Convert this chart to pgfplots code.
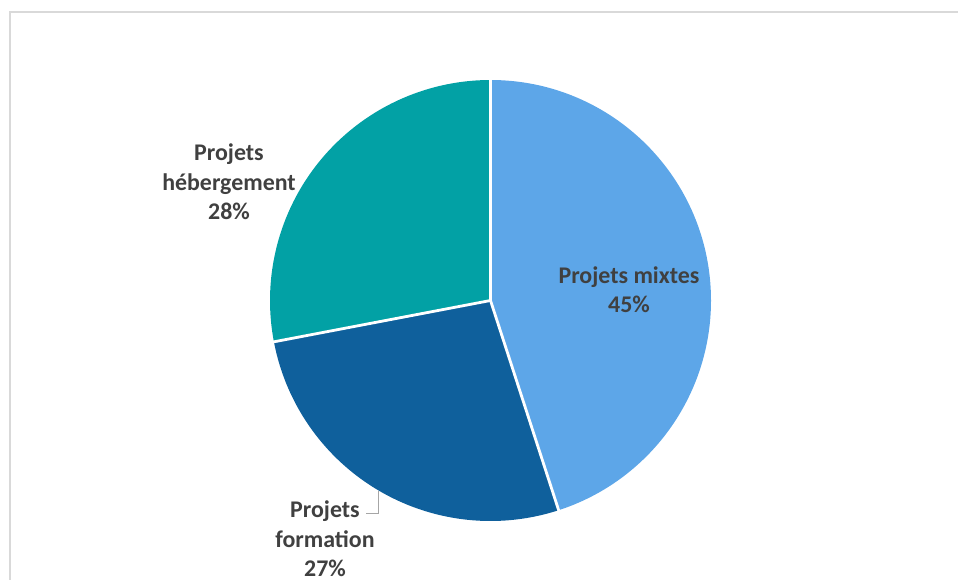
\documentclass[border=0pt]{standalone}
\usepackage{pgfplots}
\usepackage{pgfplotstable}
\pgfplotsset{compat=1.18}
\usepackage{fontspec}
\setmainfont{Carlito}
\definecolor{cMix}{HTML}{5DA6E8}
\definecolor{cForm}{HTML}{0F609C}
\definecolor{cHeb}{HTML}{02A1A5}
\definecolor{txt}{HTML}{404040}
\definecolor{frame}{HTML}{D9D9D9}
\pgfplotstableread{
label pct
mixtes 45
formation 27
hebergement 28
}\piedata
\begin{document}
\begin{tikzpicture}
\pgfplotstablegetelem{0}{pct}\of\piedata \global\let\pA\pgfplotsretval
\pgfplotstablegetelem{1}{pct}\of\piedata \global\let\pB\pgfplotsretval
\pgfplotstablegetelem{2}{pct}\of\piedata \global\let\pC\pgfplotsretval
\pgfmathsetmacro\sA{90}
\pgfmathsetmacro\eA{90-3.6*\pA}
\pgfmathsetmacro\eB{\eA-3.6*\pB}
\pgfmathsetmacro\eC{\eB-3.6*\pC}
\begin{axis}[name=ax, scale only axis, width=958bp, height=580bp,
  xmin=0, xmax=958, ymin=0, ymax=580, y dir=reverse, hide axis, clip=false]
\coordinate (bbsw) at (axis cs:0,580);
\coordinate (bbne) at (axis cs:958,0);
\draw[frame, line width=1.6bp] (axis cs:10,600) -- (axis cs:10,12) -- (axis cs:980,12);
\fill[cMix] (axis cs:490.5,300.5) -- ++(\sA:220.5bp) arc[start angle=\sA, end angle=\eA, radius=220.5bp] -- cycle;
\fill[cForm] (axis cs:490.5,300.5) -- ++(\eA:220.5bp) arc[start angle=\eA, end angle=\eB, radius=220.5bp] -- cycle;
\fill[cHeb] (axis cs:490.5,300.5) -- ++(\eB:220.5bp) arc[start angle=\eB, end angle=\eC, radius=220.5bp] -- cycle;
\draw[white, line width=2.8bp, line cap=round] (axis cs:490.5,300.5) -- ++(\sA:222bp);
\draw[white, line width=2.8bp, line cap=round] (axis cs:490.5,300.5) -- ++(\eA:222bp);
\draw[white, line width=2.8bp, line cap=round] (axis cs:490.5,300.5) -- ++(\eB:222bp);
\draw[gray!70, line width=0.9bp] (axis cs:378,491) -- (axis cs:378,513) -- (axis cs:366,513);
\node[txt, font=\bfseries\fontsize{24}{29.5}\selectfont, align=center] at (axis cs:629,290) {Projets mixtes\\\pA\%};
\node[txt, font=\bfseries\fontsize{24}{29.5}\selectfont, align=center] at (axis cs:229,182) {Projets\\hébergement\\\pC\%};
\node[txt, font=\bfseries\fontsize{24}{29.5}\selectfont, align=center] at (axis cs:325,539) {Projets\\formation\\\pB\%};
\end{axis}
\pgfresetboundingbox
\useasboundingbox (bbsw) rectangle (bbne);
\end{tikzpicture}
\end{document}
